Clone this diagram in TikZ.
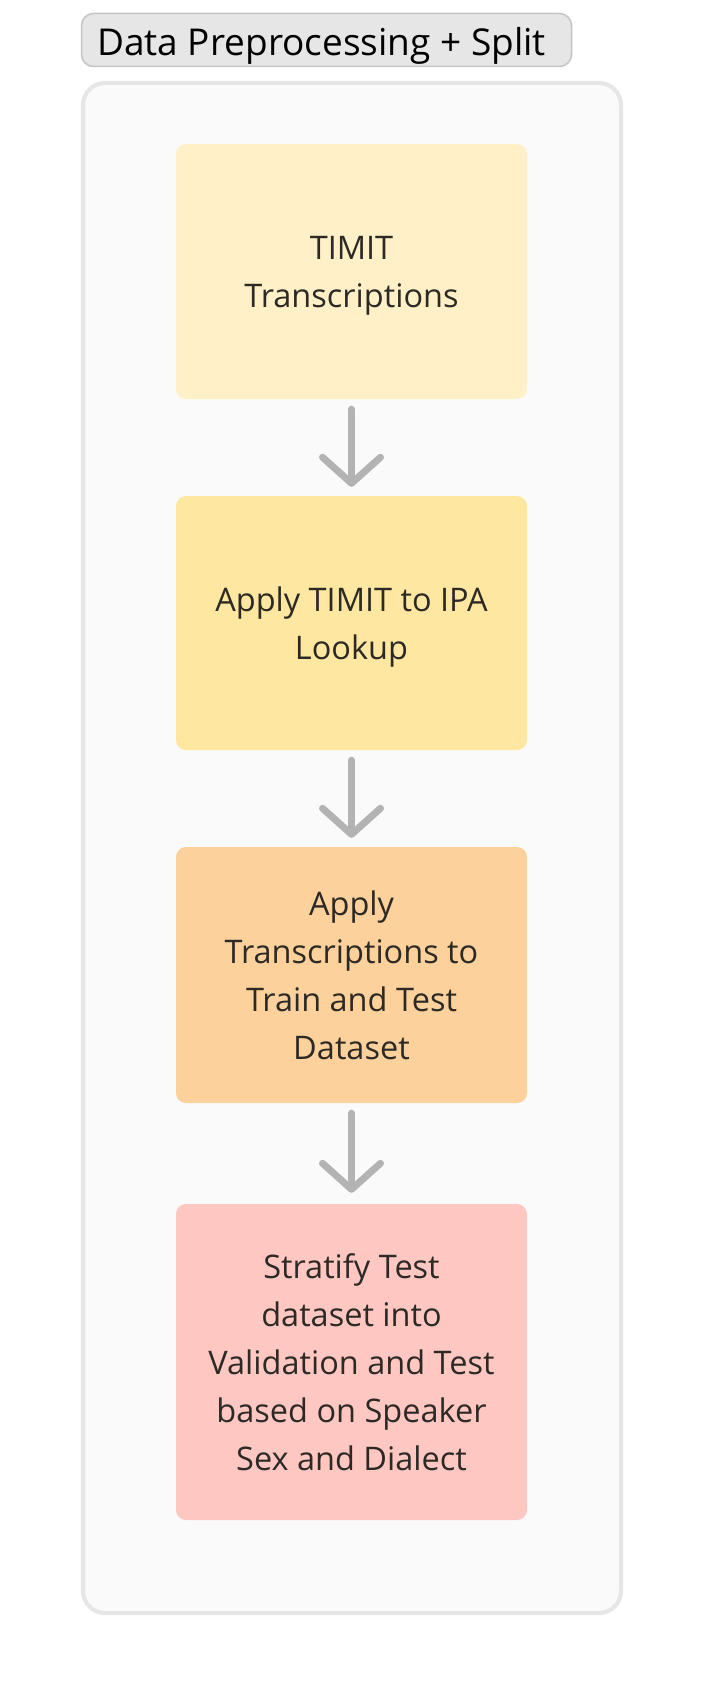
\documentclass[tikz,border=0pt]{standalone}
\usepackage{fontspec}
\setmainfont{Open Sans}
\usetikzlibrary{arrows.meta}
\definecolor{txt}{HTML}{2D2A26}
\definecolor{cA}{HTML}{FFF0C8}
\definecolor{cB}{HTML}{FEE7A1}
\definecolor{cC}{HTML}{FCD19B}
\definecolor{cD}{HTML}{FFC7C2}
\definecolor{outerfill}{HTML}{FAFAFA}
\definecolor{outerline}{HTML}{E6E6E6}
\definecolor{titlefill}{HTML}{E6E6E6}
\definecolor{titleline}{HTML}{C4C4C4}
\definecolor{arrowgray}{HTML}{B3B3B3}
\tikzset{
  stepbox/.style={rectangle, rounded corners=10pt, draw=none, minimum width=351pt,
    align=center, text=txt, font=\fontsize{32.5}{48}\selectfont, inner sep=0pt,
    text depth=0pt},
  flowarrow/.style={draw=arrowgray, line width=7pt, line cap=round,
    -{Straight Barb[length=26pt, width=58pt, round]}},
}
\begin{document}
\begin{tikzpicture}[x=1pt, y=-1pt]
\useasboundingbox (0,0) rectangle (704,1696);
\fill[white] (0,0) rectangle (704,1696);
\draw[fill=outerfill, draw=outerline, line width=4pt, rounded corners=22pt] (83,83) rectangle (621,1613);
\node[draw=titleline, fill=titlefill, line width=1.5pt, rounded corners=12pt,
  minimum width=490pt, minimum height=53pt, inner sep=0pt] (title) at (326.5,40) {};
\node[font=\fontsize{37}{44}\selectfont, text=black, anchor=center, inner sep=0pt, text depth=0pt] (titletext) at (321.5,41) {Data Preprocessing + Split};
\node[stepbox, fill=cA, minimum height=255pt] (b1) at (351.5,271.5) {TIMIT\\Transcriptions};
\node[stepbox, fill=cB, minimum height=254pt] (b2) at (351.5,623) {Apply TIMIT to IPA\\Lookup};
\node[stepbox, fill=cC, minimum height=256pt] (b3) at (351.5,975) {Apply\\Transcriptions to\\Train and Test\\Dataset};
\node[stepbox, fill=cD, minimum height=316pt] (b4) at (351.5,1362) {Stratify Test\\dataset into\\Validation and Test\\based on Speaker\\Sex and Dialect};
\draw[flowarrow] ([yshift=-10pt]b1.south) -- ([yshift=9pt]b2.north);
\draw[flowarrow] ([yshift=-10pt]b2.south) -- ([yshift=9pt]b3.north);
\draw[flowarrow] ([yshift=-10pt]b3.south) -- ([yshift=11pt]b4.north);
\end{tikzpicture}
\end{document}
